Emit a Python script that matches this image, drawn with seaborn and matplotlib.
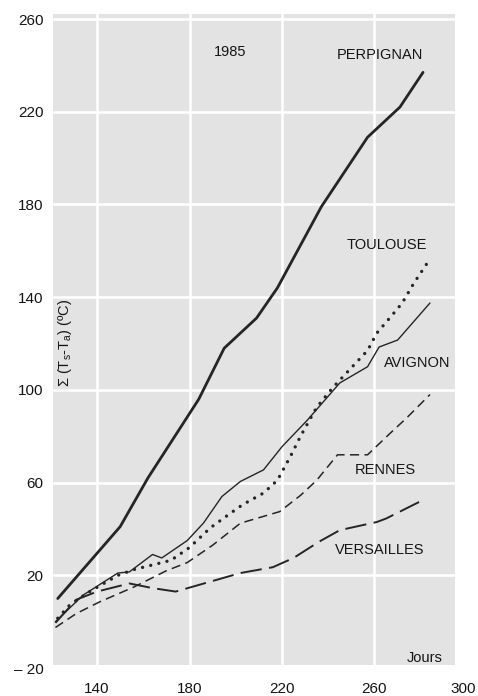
import matplotlib
matplotlib.use('Agg')
import matplotlib.pyplot as plt
import matplotlib.transforms as mtransforms
from matplotlib.patches import Rectangle
import seaborn as sns
import pandas as pd

# cumul (Ts - Ta) par jour julien, 1985
perpignan_jours = [123, 150, 162, 184, 195, 209, 218, 237, 257, 271, 281]
perpignan_cumul = [10, 41, 62, 96, 118, 131, 144, 179, 209, 222, 237]

toulouse_jours = [123, 128, 136, 149, 156, 172, 180, 189, 198, 203, 212, 218, 224, 228, 235, 242, 249, 257, 261, 267, 272, 277, 283]
toulouse_cumul = [1.5, 7, 12.5, 20, 22.5, 26.5, 32, 40.5, 47, 50.5, 55.5, 61, 72, 80, 92.5, 101, 108.5, 117, 124.5, 131.5, 137.5, 146, 155]

avignon_jours = [122, 134, 149, 154, 164, 168, 179, 186, 194, 202, 212, 220, 231, 245, 257, 262, 270, 284]
avignon_cumul = [0, 11.5, 21, 21.5, 29, 27.5, 35, 42.5, 54, 60.5, 65.5, 75.5, 87, 103, 110, 118.5, 121.5, 137.5]

rennes_jours = [122, 131, 141, 156, 170, 179, 190, 202, 219, 228, 235, 244, 257, 267, 274, 284]
rennes_cumul = [-2.5, 3.5, 8.5, 15, 22, 25.5, 33, 42.5, 47.5, 54.5, 61, 72, 72, 81.5, 88, 98]

versailles_jours = [122, 131, 140, 154, 164, 174, 188, 202, 216, 225, 236, 245, 261, 265, 281]
versailles_cumul = [-0.5, 9.5, 13, 16.5, 14.5, 13, 17, 21, 23.5, 27.5, 34.5, 39.5, 43, 44.5, 52.5]

stations = ['PERPIGNAN', 'TOULOUSE', 'AVIGNON', 'RENNES', 'VERSAILLES']
jours = [perpignan_jours, toulouse_jours, avignon_jours, rennes_jours, versailles_jours]
cumuls = [perpignan_cumul, toulouse_cumul, avignon_cumul, rennes_cumul, versailles_cumul]

x_ticks = [140, 180, 220, 260, 300]
y_ticks = [-20, 20, 60, 100, 140, 180, 220, 260]
y_tick_labels = ['\u2013 20', '20', '60', '100', '140', '180', '220', '260']

rows = []
for s, xs, ys in zip(stations, jours, cumuls):
    for x, y in zip(xs, ys):
        rows.append({'Station': s, 'Jours': x, 'Cumul': y})
df = pd.DataFrame(rows)

sns.set_theme(style='white')
plt.rcParams['font.family'] = ['Liberation Sans', 'DejaVu Sans']
plt.rcParams['mathtext.fontset'] = 'custom'
plt.rcParams['mathtext.rm'] = 'Liberation Sans'

ink = '#252525'
txt = '#151515'
styles = {
    'PERPIGNAN': dict(lw=2.0, linestyle='-'),
    'TOULOUSE': dict(lw=2.4, linestyle=(0, (0.01, 2.5)), dash_capstyle='round'),
    'AVIGNON': dict(lw=1.0, linestyle='-'),
    'RENNES': dict(lw=1.1, linestyle=(0, (6, 3.5))),
    'VERSAILLES': dict(lw=1.4, linestyle=(0, (11, 3.8))),
}

fig = plt.figure(figsize=(4.78, 6.96), dpi=100)
ax = fig.add_axes([0.1111, 0.0368, 0.8755, 0.9432])
ax.set_facecolor('white')

# fond gris du graphique
ax.add_patch(Rectangle((121, -18.7), 295 - 121, 262.2 + 18.7,
                       facecolor='#e3e3e3', edgecolor='none', zorder=0))

for s in stations:
    d = df[df['Station'] == s]
    sns.lineplot(x='Jours', y='Cumul', data=d, color=ink, ax=ax,
                 estimator=None, sort=False, zorder=3, **styles[s])

ax.set_xlim(121, 302)
ax.set_ylim(-21, 262.2)
ax.set_xticks(x_ticks)
ax.set_xticklabels([str(t) for t in x_ticks])
ax.set_yticks(y_ticks)
ax.set_yticklabels(y_tick_labels)
ax.tick_params(axis='x', length=0, pad=8.5, labelsize=11, colors=txt)
ax.tick_params(axis='y', length=0, pad=7, labelsize=11, colors=txt)
ax.grid(True, color='white', lw=1.8)
ax.set_axisbelow(True)
for sp in ax.spines.values():
    sp.set_visible(False)
ax.set_xlabel('')
ax.set_ylabel('')

# le "300" touche le bord droit de la page
last = ax.get_xticklabels()[-1]
last.set_transform(last.get_transform() + mtransforms.ScaledTranslation(-3 / 72, 0, fig.dpi_scale_trans))

lab = dict(fontsize=10.5, color=txt, ha='center', va='center', zorder=4)
ax.text(197.5, 245.8, '1985', **lab)
ax.text(262.4, 244.5, 'PERPIGNAN', **lab)
ax.text(265.4, 162.5, 'TOULOUSE', **lab)
ax.text(278.4, 111.6, 'AVIGNON', **lab)
ax.text(264.5, 65.4, 'RENNES', **lab)
ax.text(262.4, 31, 'VERSAILLES', **lab)
ax.text(281.8, -15.7, 'Jours', **lab)
ax.text(126.2, 120.2, '\u03a3 (T$_\\mathregular{s}$-T$_\\mathregular{a}$) (\u00baC)',
        rotation=90, fontsize=10.5, color=txt, ha='center', va='center')

plt.savefig('out.png', dpi=100)
plt.close()
